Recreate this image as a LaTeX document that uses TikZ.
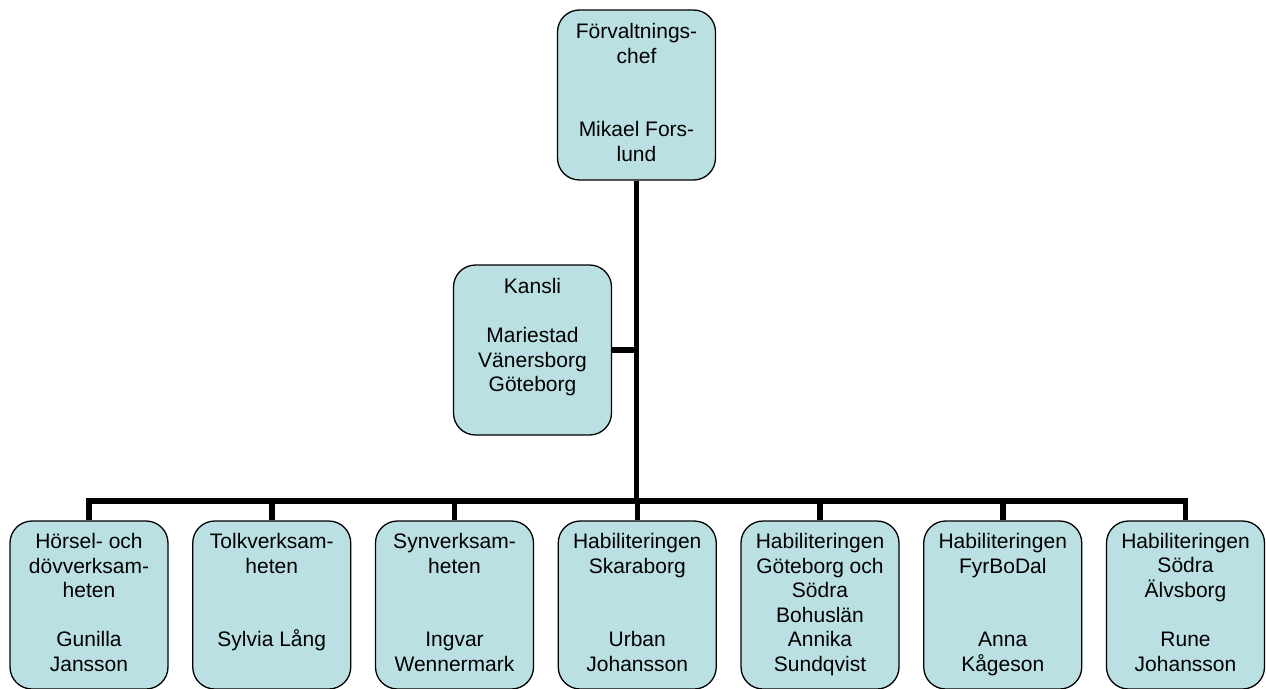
\documentclass[tikz,border=0pt]{standalone}
\usepackage{fontspec}
\setmainfont{Liberation Sans}
\definecolor{boxfill}{HTML}{BBE0E3}
\newcommand{\boxrows}[1]{\begin{tabular}{@{}c@{}}#1\end{tabular}}
\tikzset{
  orgbox/.style={draw=black, line width=1.3pt, fill=boxfill, rounded corners=22pt,
    minimum width=158pt, minimum height=#1, inner sep=0pt,
    font=\fontsize{21}{24.5}\selectfont},
  orgbox/.default=170pt,
  link/.style={draw=black, line width=5.5pt}
}
\begin{document}
\begin{tikzpicture}[x=1pt,y=-1pt]
\useasboundingbox (0,0) rectangle (1266,688);
% top
\node[orgbox] (chef) at (636.5,95) {\boxrows{Förvaltnings-\\chef\\ {}\\ {}\\Mikael Fors-\\lund}};
\node[orgbox] (kansli) at (532.5,350) {\boxrows{Kansli\\ {}\\Mariestad\\Vänersborg\\Göteborg\\ {}}};
% bottom row
\node[orgbox=168pt] (b1) at (89,605) {\boxrows{Hörsel- och\\dövverksam-\\heten\\ {}\\Gunilla\\Jansson}};
\node[orgbox=168pt] (b2) at (271.75,605) {\boxrows{Tolkverksam-\\heten\\ {}\\ {}\\Sylvia Lång\\ {}}};
\node[orgbox=168pt] (b3) at (454.5,605) {\boxrows{Synverksam-\\heten\\ {}\\ {}\\Ingvar\\Wennermark}};
\node[orgbox=168pt] (b4) at (637.25,605) {\boxrows{Habiliteringen\\Skaraborg\\ {}\\ {}\\Urban\\Johansson}};
\node[orgbox=168pt] (b5) at (820,605) {\boxrows{Habiliteringen\\Göteborg och\\Södra\\Bohuslän\\Annika\\Sundqvist}};
\node[orgbox=168pt] (b6) at (1002.75,605) {\boxrows{Habiliteringen\\FyrBoDal\\ {}\\ {}\\Anna\\Kågeson}};
\node[orgbox=168pt] (b7) at (1185.5,605) {\boxrows{Habiliteringen\\Södra\\Älvsborg\\ {}\\Rune\\Johansson}};
% connectors
\coordinate (junc) at (636.5,501);
\coordinate (kj) at (kansli.east -| chef.south);
\path[link] (chef.south) -- (junc);
\path[link] (kansli.east) -- (kj);
\foreach \b in {b1,b2,b3,b4,b5,b6,b7}{
  \path[link] (junc) -| (\b.north);
}
\end{tikzpicture}
\end{document}
